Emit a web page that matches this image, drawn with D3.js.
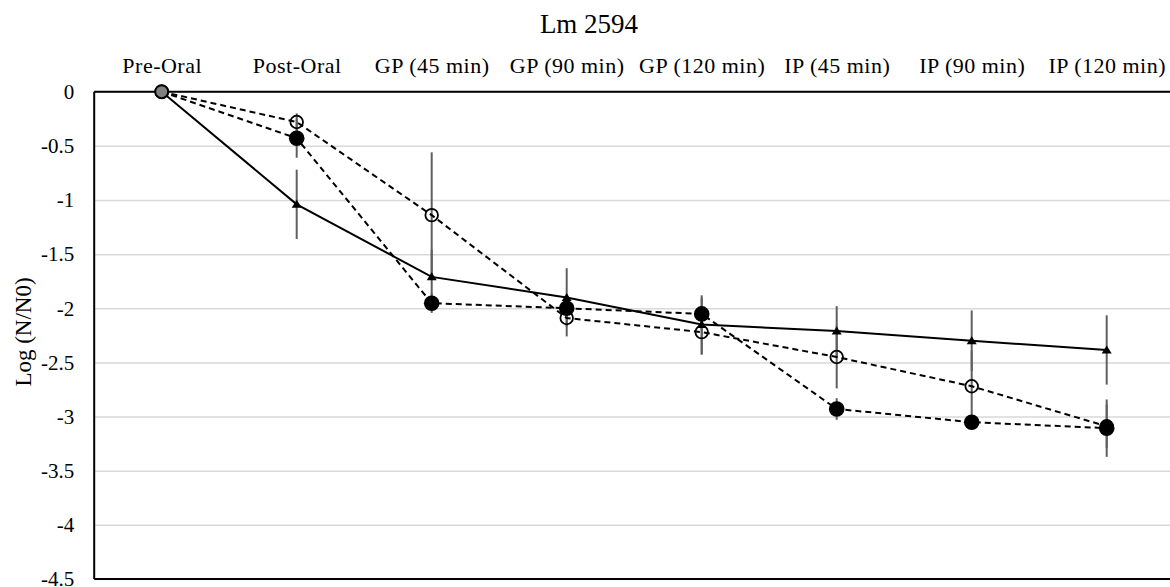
<!DOCTYPE html>
<html>
<head>
<meta charset="utf-8">
<script src="https://cdn.jsdelivr.net/npm/d3@7"></script>
<style>
  body { margin: 0; background: #fff; }
  svg text { font-family: "Liberation Serif", "Times New Roman", serif; fill: #000; }
</style>
</head>
<body>
<svg id="chart"></svg>
<script>
// Chart values
const categories = ["Pre-Oral", "Post-Oral", "GP (45 min)", "GP (90 min)", "GP (120 min)", "IP (45 min)", "IP (90 min)", "IP (120 min)"];
const yTicks = [0, -0.5, -1, -1.5, -2, -2.5, -3, -3.5, -4, -4.5];

// solid line, triangles
const triValues = [0, -1.04, -1.71, -1.90, -2.15, -2.21, -2.30, -2.385];
const triErrors = [0, 0.32, 0.25, 0.27, 0.27, 0.23, 0.28, 0.32];

// dashed line, open circles
const openValues = [0, -0.28, -1.14, -2.09, -2.22, -2.45, -2.72, -3.09];
const openErrors = [0, 0.08, 0.58, 0.17, 0.21, 0.29, 0.33, 0.2];

// dashed line, filled circles
const fillValues = [0, -0.43, -1.953, -2.00, -2.052, -2.93, -3.052, -3.107];
const fillErrors = [0, 0.18, 0.09, 0.1, 0.15, 0.1, 0.05, 0.265];

// Dimensions
const width = 1170, height = 587;
const plot = { left: 94.2, right: 1174.2, top: 91.7, bottom: 579 };

const svg = d3.select("#chart")
    .attr("width", width)
    .attr("height", height);

const x = d3.scalePoint()
    .domain(categories)
    .range([plot.left, plot.right])
    .padding(0.5);

const y = d3.scaleLinear()
    .domain([-4.5, 0])
    .range([plot.bottom, plot.top]);

// Title
svg.append("text")
    .attr("x", 589)
    .attr("y", 33)
    .attr("text-anchor", "middle")
    .style("font-size", "27px")
    .text("Lm 2594");

// Gridlines
svg.append("g")
    .attr("transform", `translate(${plot.left},0)`)
    .call(d3.axisLeft(y).tickValues(yTicks).tickSize(-(plot.right - plot.left)).tickFormat(""))
    .call(g => g.select(".domain").remove())
    .call(g => g.selectAll("line").attr("stroke", "#d9d9d9").attr("stroke-width", 1.5));

// Y tick labels
svg.append("g")
    .attr("transform", `translate(${plot.left},0)`)
    .call(d3.axisLeft(y).tickValues(yTicks).tickSize(0).tickPadding(20).tickFormat(d => String(d)))
    .call(g => g.select(".domain").remove())
    .call(g => g.selectAll("text")
        .style("font-size", "21px")
        .style("font-family", "Liberation Serif"));

// Category labels on top
svg.append("g")
    .attr("transform", `translate(0,${y(0)})`)
    .call(d3.axisTop(x).tickSize(0).tickPadding(18.7))
    .call(g => g.select(".domain").remove())
    .call(g => g.selectAll("text")
        .style("font-size", "22px")
        .style("letter-spacing", "0.5px")
        .style("font-family", "Liberation Serif"));

// Axis lines
svg.append("line")
    .attr("x1", plot.left).attr("x2", plot.right)
    .attr("y1", y(0)).attr("y2", y(0))
    .attr("stroke", "#000").attr("stroke-width", 2);
svg.append("line")
    .attr("x1", plot.left).attr("x2", plot.right)
    .attr("y1", y(-4.5)).attr("y2", y(-4.5))
    .attr("stroke", "#000").attr("stroke-width", 2);
svg.append("line")
    .attr("x1", plot.left).attr("x2", plot.left)
    .attr("y1", y(0)).attr("y2", y(-4.5))
    .attr("stroke", "#000").attr("stroke-width", 2);

// Y axis title
svg.append("text")
    .attr("transform", `translate(31,332) rotate(-90)`)
    .attr("text-anchor", "middle")
    .style("font-size", "23px")
    .text("Log (N/N0)");

const series = [
    { values: triValues, errors: triErrors, dash: null },
    { values: openValues, errors: openErrors, dash: "6,4" },
    { values: fillValues, errors: fillErrors, dash: "6,4" }
];

// Error bars
series.forEach(s => {
    svg.append("g").selectAll("line")
        .data(categories.filter((c, i) => s.errors[i] > 0))
        .join("line")
        .attr("x1", c => x(c))
        .attr("x2", c => x(c))
        .attr("y1", c => y(s.values[categories.indexOf(c)] + s.errors[categories.indexOf(c)]))
        .attr("y2", c => y(s.values[categories.indexOf(c)] - s.errors[categories.indexOf(c)]))
        .attr("stroke", "#5f5f5f")
        .attr("stroke-width", 2);
});

// Lines
const line = d3.line()
    .x((d, i) => x(categories[i]))
    .y(d => y(d));

series.forEach(s => {
    svg.append("path")
        .datum(s.values)
        .attr("d", line)
        .attr("fill", "none")
        .attr("stroke", "#000")
        .attr("stroke-width", 2)
        .attr("stroke-dasharray", s.dash);
});

// Markers - triangles
svg.append("g").selectAll("path")
    .data(triValues)
    .join("path")
    .attr("transform", (d, i) => `translate(${x(categories[i])},${y(d)})`)
    .attr("d", "M0,-4.5L5,3.5L-5,3.5Z")
    .attr("fill", "#000");

// Markers - open circles
svg.append("g").selectAll("circle")
    .data(openValues)
    .join("circle")
    .attr("cx", (d, i) => x(categories[i]))
    .attr("cy", d => y(d))
    .attr("r", 6.3)
    .attr("fill", "none")
    .attr("stroke", "#000")
    .attr("stroke-width", 1.8);

// Markers - filled circles (first point is grey)
svg.append("g").selectAll("circle")
    .data(fillValues)
    .join("circle")
    .attr("cx", (d, i) => x(categories[i]))
    .attr("cy", d => y(d))
    .attr("r", (d, i) => i === 0 ? 6.5 : 7.8)
    .attr("fill", (d, i) => i === 0 ? "#808080" : "#000")
    .attr("stroke", "#000")
    .attr("stroke-width", (d, i) => i === 0 ? 2 : 0);
</script>
</body>
</html>
